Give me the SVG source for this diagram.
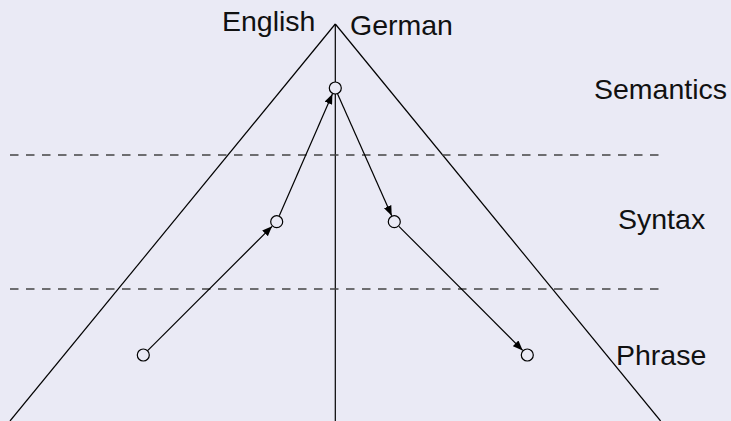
<svg xmlns="http://www.w3.org/2000/svg" width="731" height="421" viewBox="0 0 731 421">
<defs>
<style>
.bg{fill:#eaeaf5}
.ln{stroke:#000;stroke-width:1.2;fill:none}
.dash{stroke:#444;stroke-width:1.3;stroke-dasharray:8.5 7.5;fill:none}
.node{fill:#eaeaf5;stroke:#000;stroke-width:1.2}
.arr{stroke:#000;stroke-width:1.2;fill:none;marker-end:url(#ah)}
.lbl{font-family:"Liberation Sans",Arial,sans-serif;font-size:28.5px;fill:#111}
</style>
<marker id="ah" markerUnits="userSpaceOnUse" markerWidth="10" markerHeight="8" refX="10" refY="4" orient="auto">
<path d="M0,0 L10,4 L0,8 z" fill="#000"/>
</marker>
</defs>
<rect class="bg" x="0" y="0" width="731" height="421"/>
<g id="frame">
<line class="ln" x1="335.3" y1="24" x2="10" y2="421"/>
<line class="ln" x1="335.3" y1="24" x2="660.6" y2="421"/>
<line class="ln" x1="335.3" y1="24" x2="335.3" y2="421"/>
<line class="dash" x1="10" y1="155" x2="659" y2="155"/>
<line class="dash" x1="10" y1="289" x2="659" y2="289"/>
</g>
<g id="connectors">
<line class="arr" x1="147.9" y1="350.4" x2="272.1" y2="226.3"/>
<line class="arr" x1="279.3" y1="215.7" x2="332.4" y2="94"/>
<line class="arr" x1="337.6" y1="93.9" x2="391.7" y2="215.8"/>
<line class="arr" x1="398.9" y1="226.3" x2="522.7" y2="350.4"/>
</g>
<g id="n-sem"><circle class="node" cx="335.3" cy="88" r="6"/></g>
<g id="n-syn-en"><circle class="node" cx="276.7" cy="221.7" r="6"/></g>
<g id="n-syn-de"><circle class="node" cx="394.3" cy="221.7" r="6"/></g>
<g id="n-phr-en"><circle class="node" cx="143.3" cy="355" r="6"/></g>
<g id="n-phr-de"><circle class="node" cx="527.3" cy="355" r="6"/></g>
<g id="labels">
<text class="lbl" x="222" y="31">English</text>
<text class="lbl" x="350" y="35">German</text>
<text class="lbl" x="594" y="99.3">Semantics</text>
<text class="lbl" x="618" y="229">Syntax</text>
<text class="lbl" x="616" y="365">Phrase</text>
</g>
</svg>
